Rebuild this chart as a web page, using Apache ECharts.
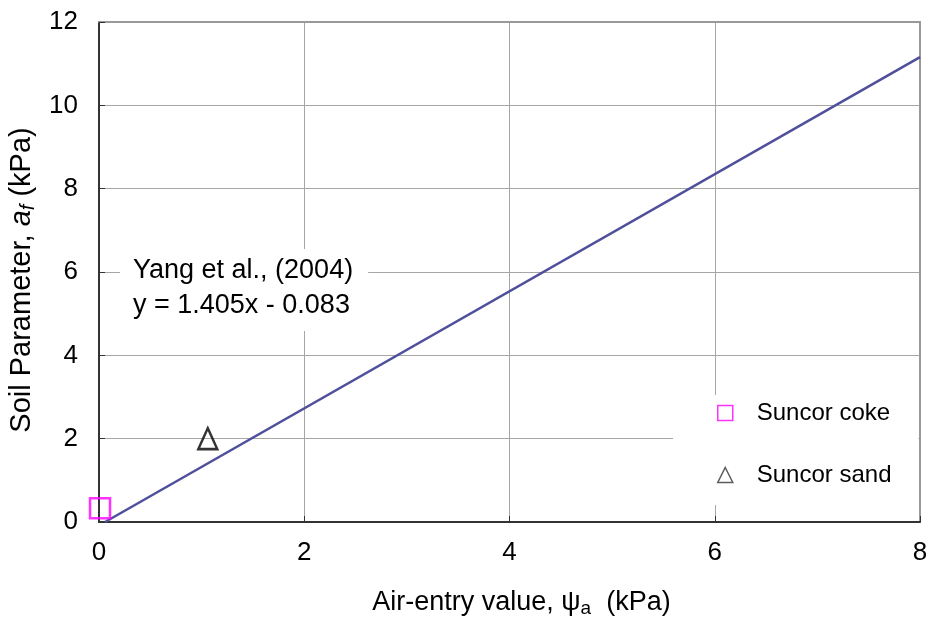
<!DOCTYPE html>
<html>
<head>
<meta charset="utf-8">
<script src="https://cdn.jsdelivr.net/npm/echarts@6/dist/echarts.min.js"></script>
<style>
  html, body { margin: 0; padding: 0; background: #fff; }
  #chart { width: 929px; height: 618px; }
</style>
</head>
<body>
<div id="chart"></div>
<script>
// Axis ranges
const xTicks = [0, 2, 4, 6, 8];
const yTicks = [0, 2, 4, 6, 8, 10, 12];

// Measured points
const cokeX = [0.01];
const cokeY = [0.33];
const sandX = [1.06];
const sandY = [2.0];

// Yang et al. (2004) regression line, y = 1.405x - 0.083 (end points)
const fitX = [0.059, 8];
const fitY = [0, 11.157];

const FONT = "'Liberation Sans', Arial, sans-serif";
const zip = (a, b) => a.map((v, i) => [v, b[i]]);

const chart = echarts.init(document.getElementById('chart'), null, { renderer: 'canvas' });

const gridColor = '#a6a6a6';
const axisDark = '#333333';
const axisLight = '#999999';

chart.setOption({
  animation: false,
  backgroundColor: '#fff',
  textStyle: { fontFamily: FONT },
  grid: { left: 99, top: 22, width: 821, height: 500, containLabel: false, outerBoundsMode: 'none' },
  title: {
    text: 'Yang et al., (2004)\ny = 1.405x - 0.083',
    left: 120,
    top: 249,
    backgroundColor: '#fff',
    padding: [4, 15, 8, 13],
    textStyle: { fontSize: 27, fontWeight: 'normal', lineHeight: 35, color: '#000', fontFamily: FONT }
  },
  legend: {
    orient: 'vertical',
    left: 673,
    top: 395,
    backgroundColor: '#fff',
    padding: [6, 27, 18, 44],
    itemWidth: 15,
    itemHeight: 15,
    itemGap: 38,
    selectedMode: false,
    textStyle: { fontSize: 24, lineHeight: 24, color: '#000', fontFamily: FONT, padding: [0, 0, 0, 19] },
    data: [
      { name: 'Suncor coke', icon: 'rect',
        itemStyle: { color: 'rgba(0,0,0,0)', borderColor: '#ff00ff', borderWidth: 1.5 } },
      { name: 'Suncor sand', icon: 'triangle',
        itemStyle: { color: 'rgba(0,0,0,0)', borderColor: '#333', borderWidth: 1.5 } }
    ]
  },
  xAxis: [
    {
      type: 'value', position: 'bottom',
      min: xTicks[0], max: xTicks[xTicks.length - 1], interval: xTicks[1] - xTicks[0],
      name: '{n|Air-entry value, ψ}{s|a}{n|  (kPa)}',
      nameLocation: 'middle', nameGap: 66,
      nameTextStyle: {
        padding: [0, 0, 0, 24],
        rich: {
          n: { fontSize: 27, lineHeight: 30, color: '#000', fontFamily: FONT, verticalAlign: 'middle' },
          s: { fontSize: 19, lineHeight: 19, color: '#000', fontFamily: FONT, verticalAlign: 'bottom' }
        }
      },
      axisLine: { show: true, onZero: false, lineStyle: { color: axisDark, width: 2 } },
      axisTick: { show: true, inside: true, length: 6, lineStyle: { color: axisDark, width: 1 } },
      axisLabel: { fontSize: 26, color: '#000', margin: 18, fontFamily: FONT },
      splitLine: { show: true, lineStyle: { color: gridColor, width: 1 } }
    },
    {
      type: 'value', position: 'top',
      min: xTicks[0], max: xTicks[xTicks.length - 1], interval: xTicks[1] - xTicks[0],
      axisLine: { show: true, onZero: false, lineStyle: { color: axisLight, width: 2 } },
      axisTick: { show: false }, axisLabel: { show: false }, splitLine: { show: false }
    }
  ],
  yAxis: [
    {
      type: 'value', position: 'left',
      min: yTicks[0], max: yTicks[yTicks.length - 1], interval: yTicks[1] - yTicks[0],
      name: '{n|Soil Parameter, }{i|a}{si|f}{n| (kPa)}',
      nameLocation: 'middle', nameGap: 50, nameRotate: 90,
      nameTextStyle: {
        padding: [0, 16, 0, 0],
        rich: {
          n: { fontSize: 29, lineHeight: 32, color: '#000', fontFamily: FONT, verticalAlign: 'middle' },
          i: { fontSize: 29, lineHeight: 32, color: '#000', fontFamily: FONT, fontStyle: 'italic', verticalAlign: 'middle' },
          si: { fontSize: 20, lineHeight: 20, color: '#000', fontFamily: FONT, fontStyle: 'italic', verticalAlign: 'bottom' }
        }
      },
      axisLine: { show: true, onZero: false, lineStyle: { color: axisDark, width: 2 } },
      axisTick: { show: true, inside: true, length: 6, lineStyle: { color: axisDark, width: 1 } },
      axisLabel: { fontSize: 26, color: '#000', margin: 21, fontFamily: FONT },
      splitLine: { show: true, lineStyle: { color: gridColor, width: 1 } }
    },
    {
      type: 'value', position: 'right',
      min: yTicks[0], max: yTicks[yTicks.length - 1], interval: yTicks[1] - yTicks[0],
      axisLine: { show: true, onZero: false, lineStyle: { color: axisLight, width: 2 } },
      axisTick: { show: false }, axisLabel: { show: false }, splitLine: { show: false }
    }
  ],
  series: [
    {
      name: 'Yang et al., (2004)',
      type: 'line',
      xAxisIndex: 0, yAxisIndex: 0,
      data: zip(fitX, fitY),
      showSymbol: false, symbol: 'none',
      lineStyle: { color: '#4f4f9b', width: 2.5 },
      z: 3
    },
    {
      name: 'Suncor coke',
      type: 'scatter',
      xAxisIndex: 0, yAxisIndex: 0,
      data: zip(cokeX, cokeY),
      symbol: 'rect',
      symbolSize: 20,
      itemStyle: { color: 'rgba(0,0,0,0)', borderColor: '#ff00ff', borderWidth: 2.5 },
      z: 4
    },
    {
      name: 'Suncor sand',
      type: 'scatter',
      xAxisIndex: 0, yAxisIndex: 0,
      data: zip(sandX, sandY),
      symbol: 'triangle',
      symbolSize: [19, 21],
      itemStyle: { color: 'rgba(0,0,0,0)', borderColor: '#000', borderWidth: 2.5 },
      z: 4
    }
  ]
});
</script>
</body>
</html>
